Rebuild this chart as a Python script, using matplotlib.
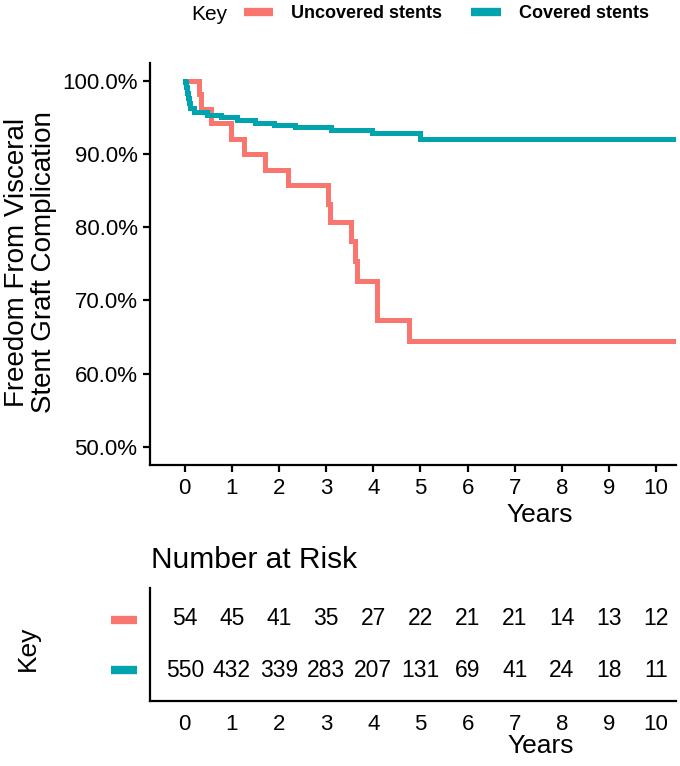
import matplotlib
matplotlib.use("Agg")
import matplotlib.pyplot as plt
from matplotlib.lines import Line2D
from matplotlib.offsetbox import HPacker

plt.rcParams['font.family'] = ['Liberation Sans', 'DejaVu Sans']

# ---- data ----
uncov_t = [0.0, 0.30, 0.35, 0.56, 0.98, 1.25, 1.70, 2.18, 3.03, 3.08, 3.53, 3.62, 3.65, 4.08, 4.76, 10.41]
uncov_s = [1.000, 0.982, 0.961, 0.943, 0.920, 0.900, 0.878, 0.857, 0.832, 0.807, 0.781, 0.754, 0.727, 0.673, 0.645, 0.645]
cov_t = [0.0, 0.005, 0.02, 0.04, 0.06, 0.08, 0.10, 0.20, 0.48, 0.77, 1.10, 1.49, 1.90, 2.33, 3.10, 3.98, 4.98, 10.41]
cov_s = [1.000, 0.998, 0.991, 0.984, 0.977, 0.970, 0.963, 0.958, 0.953, 0.950, 0.946, 0.943, 0.940, 0.937, 0.933, 0.928, 0.921, 0.921]

groups = ["Uncovered stents", "Covered stents"]
colors = ["#F8766D", "#00A4AE"]
risk_years = list(range(0, 11))
risk_uncov = [54, 45, 41, 35, 27, 22, 21, 21, 14, 13, 12]
risk_cov = [550, 432, 339, 283, 207, 131, 69, 41, 24, 18, 11]
yticks = [0.5, 0.6, 0.7, 0.8, 0.9, 1.0]

W, H = 680, 766
fig = plt.figure(figsize=(W / 100, H / 100), dpi=100)

def fx(px):
    return px / W

def fy(py):
    return 1 - py / H

# ---- main KM axes ----
ax = fig.add_axes([fx(150), fy(465), fx(675.5) - fx(150), fy(62.5) - fy(465)])
ax.step(uncov_t, uncov_s, where='post', color=colors[0], lw=3.6, solid_joinstyle='miter')
ax.step(cov_t, cov_s, where='post', color=colors[1], lw=3.6, solid_joinstyle='miter')
ax.set_xlim(-0.738, 10.41)
ax.set_ylim(0.475, 1.025)
ax.set_xticks(risk_years)
ax.set_yticks(yticks)
ax.set_yticklabels([f"{v*100:.1f}%" for v in yticks])
for s in ['top', 'right']:
    ax.spines[s].set_visible(False)
for s in ['left', 'bottom']:
    ax.spines[s].set_linewidth(1.6)
ax.tick_params(axis='both', labelsize=16, width=1.6, length=5, pad=4, colors='black')
ax.set_xlabel("Years", fontsize=19)
ax.xaxis.set_label_coords(0.742, -0.095)
fig.text(fx(31), fy(262), "Freedom From Visceral\nStent Graft Complication",
         rotation=90, ha='center', va='center', fontsize=20, linespacing=1.05)

# ---- legend ----
handles = [Line2D([0], [0], color=c, lw=6, solid_capstyle='butt') for c in colors]
leg = fig.legend(handles, groups, loc='center', bbox_to_anchor=(fx(420), fy(14)),
                 ncol=2, frameon=False, title="Key", handlelength=1.65,
                 columnspacing=1.6, handletextpad=1.0,
                 prop={'weight': 'bold', 'size': 13}, title_fontsize=15)
leg._legend_box = HPacker(pad=0, sep=12, align="center",
                          children=[leg._legend_title_box, leg._legend_handle_box])
leg._legend_box.set_figure(fig)
leg._legend_box.set_offset(leg._findoffset)

# ---- risk table ----
ax2 = fig.add_axes([fx(150), fy(701), fx(675.5) - fx(150), fy(588) - fy(701)])
ax2.set_xlim(-0.738, 10.41)
ax2.set_ylim(2.6, 0.4)
for i, vals in enumerate([risk_uncov, risk_cov]):
    for x, v in zip(risk_years, vals):
        ax2.text(x, i + 1, str(v), ha='center', va='center', fontsize=16.5)
ax2.set_xticks(risk_years)
ax2.set_yticks([1, 2])
ax2.set_yticklabels(["", ""])
ax2.tick_params(axis='y', length=0)
ax2.tick_params(axis='x', labelsize=16, width=1.6, length=0, pad=9, colors='black')
for s in ['top', 'right']:
    ax2.spines[s].set_visible(False)
for s in ['left', 'bottom']:
    ax2.spines[s].set_linewidth(1.6)
for i, c in enumerate(colors):
    y = fy(620 if i == 0 else 670)
    fig.add_artist(Line2D([fx(111), fx(137)], [y, y], color=c, lw=6,
                          solid_capstyle='butt', transform=fig.transFigure))
fig.text(fx(541), fy(746), "Years", ha='center', va='center', fontsize=19)
fig.text(fx(28), fy(648), "Key", rotation=90, ha='center', va='center', fontsize=19)
fig.text(fx(151), fy(560), "Number at Risk", ha='left', va='center', fontsize=21.5)

fig.savefig("out.png", dpi=100)
